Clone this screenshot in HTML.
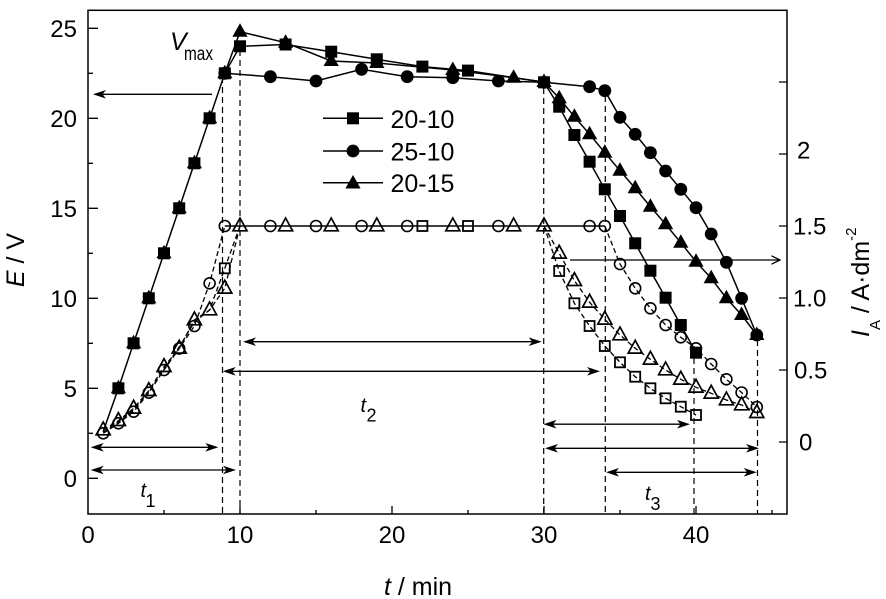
<!DOCTYPE html>
<html><head><meta charset="utf-8"><style>
html,body{margin:0;padding:0;background:#fff;}
svg{display:block;}
</style></head><body>
<svg width="886" height="599" xmlns="http://www.w3.org/2000/svg" xmlns:xlink="http://www.w3.org/1999/xlink" font-family="'Liberation Sans', Arial, sans-serif">
<defs>
<rect id="fs" x="-6" y="-6" width="12" height="12" fill="#000"/>
<circle id="fc" r="6.4" fill="#000"/>
<polygon id="ft" points="0,-8.5 7.6,5 -7.6,5" fill="#000"/>
<rect id="os" x="-5" y="-5" width="10" height="10" fill="none" stroke="#000" stroke-width="1.8"/>
<circle id="oc" r="5.5" fill="none" stroke="#000" stroke-width="1.6"/>
<polygon id="ot" points="0,-8 7,4.8 -7,4.8" fill="none" stroke="#000" stroke-width="1.7" stroke-linejoin="miter"/>
</defs>

<!-- frame -->
<rect x="88" y="10.3" width="699" height="503.7" fill="none" stroke="#000" stroke-width="1.5"/>

<!-- ticks -->
<g stroke="#000" stroke-width="1.3">
<path d="M88 478.3H98M88 388.3H98M88 298.3H98M88 208.3H98M88 118.3H98M88 28.3H98"/>
<path d="M88 433.3H93M88 343.3H93M88 253.3H93M88 163.3H93M88 73.3H93"/>
<path d="M240 514V506M392 514V506M544 514V506M696 514V506"/>
<path d="M164 514V510M316 514V510M468 514V510M620 514V510M772 514V510"/>
<path d="M787 442H779M787 370H779M787 298H779M787 226H779M787 154H779M787 82H779"/>
</g>

<!-- tick labels -->
<g font-size="24" fill="#000">
<text x="77" y="36.8" text-anchor="end">25</text>
<text x="77" y="126.8" text-anchor="end">20</text>
<text x="77" y="216.8" text-anchor="end">15</text>
<text x="77" y="306.8" text-anchor="end">10</text>
<text x="77" y="396.8" text-anchor="end">5</text>
<text x="77" y="486.8" text-anchor="end">0</text>
<text x="88" y="543" text-anchor="middle">0</text>
<text x="240" y="543" text-anchor="middle">10</text>
<text x="392" y="543" text-anchor="middle">20</text>
<text x="544" y="543" text-anchor="middle">30</text>
<text x="696" y="543" text-anchor="middle">40</text>
<text x="797" y="158.5">2</text>
<text x="793" y="234.3">1.5</text>
<text x="793" y="306.3">1.0</text>
<text x="794" y="378.3">0.5</text>
<text x="799" y="450.3">0</text>
</g>

<!-- axis labels -->
<text transform="translate(24,260) rotate(-90)" text-anchor="middle" font-size="25"><tspan font-style="italic">E</tspan> / V</text>
<text x="418" y="595" text-anchor="middle" font-size="25"><tspan font-style="italic">t</tspan> / min</text>
<text transform="translate(869,337) rotate(-90)" font-size="25"><tspan font-style="italic">I</tspan><tspan font-size="15" dy="11">A</tspan><tspan dy="-11"> / A·dm</tspan><tspan font-size="15" dy="-13">-2</tspan></text>

<!-- dashed verticals -->
<g stroke="#000" stroke-width="1.2" stroke-dasharray="6,4" fill="none">
<path d="M222.5 77V514"/>
<path d="M240 50V514"/>
<path d="M543.7 88V514"/>
<path d="M605.3 96V514"/>
<path d="M694 358V514"/>
<path d="M757.5 340V514"/>
</g>

<!-- arrows -->
<g stroke="#000" stroke-width="1.3" fill="none">
<path d="M212 94.3H95"/>
<path d="M245 341.7H539"/>
<path d="M225 371.3H597"/>
<path d="M546 424.2H687"/>
<path d="M547 448.3H756"/>
<path d="M608 472.3H754"/>
<path d="M93 447.3H216"/>
<path d="M93 470H233"/>
<path d="M570 260H780"/>
<path d="M771.5 255.8L780 260L771.5 264.2"/>
</g>
<g fill="#000" stroke="none">
<path d="M93 94.3l13 -4.3l-3.5 4.3l3.5 4.3z"/>
<path d="M243 341.7l13 -4.3l-3.5 4.3l3.5 4.3z"/>
<path d="M541.7 341.7l-13 -4.3l3.5 4.3l-3.5 4.3z"/>
<path d="M222.7 371.3l13 -4.3l-3.5 4.3l3.5 4.3z"/>
<path d="M600 371.3l-13 -4.3l3.5 4.3l-3.5 4.3z"/>
<path d="M543.5 424.2l13 -4.3l-3.5 4.3l3.5 4.3z"/>
<path d="M690 424.2l-13 -4.3l3.5 4.3l-3.5 4.3z"/>
<path d="M545 448.3l13 -4.3l-3.5 4.3l3.5 4.3z"/>
<path d="M759 448.3l-13 -4.3l3.5 4.3l-3.5 4.3z"/>
<path d="M606 472.3l13 -4.3l-3.5 4.3l3.5 4.3z"/>
<path d="M756.7 472.3l-13 -4.3l3.5 4.3l-3.5 4.3z"/>
<path d="M90.7 447.3l13 -4.3l-3.5 4.3l3.5 4.3z"/>
<path d="M218.3 447.3l-13 -4.3l3.5 4.3l-3.5 4.3z"/>
<path d="M90.7 470l13 -4.3l-3.5 4.3l3.5 4.3z"/>
<path d="M236 470l-13 -4.3l3.5 4.3l-3.5 4.3z"/>
</g>

<!-- annotation texts -->
<text x="170" y="50" font-size="25" font-style="italic">V</text>
<text x="184" y="60" font-size="19" textLength="29" lengthAdjust="spacingAndGlyphs">max</text>
<text x="140.5" y="497" font-size="20" font-style="italic">t</text>
<text x="145.5" y="507" font-size="18">1</text>
<text x="360.5" y="412" font-size="20" font-style="italic">t</text>
<text x="366.5" y="421.7" font-size="18">2</text>
<text x="645" y="500" font-size="20" font-style="italic">t</text>
<text x="650.5" y="510" font-size="18">3</text>

<!-- open series lines -->
<g fill="none" stroke="#000" stroke-width="1.3" stroke-dasharray="5,3">
<polyline points="103.2,433.3 118.4,423.3 133.6,411.7 148.8,392.7 164,370 179.2,348.5 194.4,326 209.6,283.3 224.8,226"/>
<polyline points="604.8,226 620,264 635.2,288.3 650.4,308.3 665.6,325 680.8,337.3 696,348.3 711.2,364 726.4,379.3 741.6,392.5 756.8,407"/>
<polyline points="103.2,432 118.4,422 133.6,410 148.8,392 164,369 179.2,347 194.4,322 209.6,310 224.8,268.3 240,226"/>
<polyline points="544,226 559.2,271 574.4,303.3 589.6,326 604.8,346 620,362.3 635.2,376.7 650.4,388.3 665.6,398.3 680.8,406.7 696,415"/>
<polyline points="103.2,430 118.4,420.7 133.6,408.3 148.8,390.7 164,366.7 179.2,348.3 194.4,320 209.6,310 224.8,288.3 240,226"/>
<polyline points="544,226 559.2,253.3 574.4,280.7 589.6,302.3 604.8,319.3 620,335 635.2,348.3 650.4,359.3 665.6,370 680.8,379.3 696,387.3 711.2,393.3 726.4,400 741.6,405 756.8,412.7"/>
</g>
<path d="M224.8 226H604.8" stroke="#000" stroke-width="1.5"/>

<!-- open markers -->
<g>
<use xlink:href="#oc" x="103.2" y="433.3"/><use xlink:href="#oc" x="118.4" y="423.3"/><use xlink:href="#oc" x="133.6" y="411.7"/><use xlink:href="#oc" x="148.8" y="392.7"/><use xlink:href="#oc" x="164" y="370"/><use xlink:href="#oc" x="179.2" y="348.5"/><use xlink:href="#oc" x="194.4" y="326"/><use xlink:href="#oc" x="209.6" y="283.3"/><use xlink:href="#oc" x="224.8" y="226"/>
<use xlink:href="#oc" x="270.4" y="226"/><use xlink:href="#oc" x="316" y="226"/><use xlink:href="#oc" x="361.6" y="226"/><use xlink:href="#oc" x="407.2" y="226"/><use xlink:href="#oc" x="498.4" y="226"/><use xlink:href="#oc" x="589.6" y="226"/><use xlink:href="#oc" x="604.8" y="226"/>
<use xlink:href="#oc" x="620" y="264"/><use xlink:href="#oc" x="635.2" y="288.3"/><use xlink:href="#oc" x="650.4" y="308.3"/><use xlink:href="#oc" x="665.6" y="325"/><use xlink:href="#oc" x="680.8" y="337.3"/><use xlink:href="#oc" x="696" y="348.3"/><use xlink:href="#oc" x="711.2" y="364"/><use xlink:href="#oc" x="726.4" y="379.3"/><use xlink:href="#oc" x="741.6" y="392.5"/><use xlink:href="#oc" x="756.8" y="407"/>

<use xlink:href="#os" x="224.8" y="268.3"/><use xlink:href="#os" x="422.4" y="226"/><use xlink:href="#os" x="468" y="226"/>
<use xlink:href="#os" x="559.2" y="271"/><use xlink:href="#os" x="574.4" y="303.3"/><use xlink:href="#os" x="589.6" y="326"/><use xlink:href="#os" x="604.8" y="346"/><use xlink:href="#os" x="620" y="362.3"/><use xlink:href="#os" x="635.2" y="376.7"/><use xlink:href="#os" x="650.4" y="388.3"/><use xlink:href="#os" x="665.6" y="398.3"/><use xlink:href="#os" x="680.8" y="406.7"/><use xlink:href="#os" x="696" y="415"/>

<use xlink:href="#ot" x="103.2" y="430"/><use xlink:href="#ot" x="118.4" y="420.7"/><use xlink:href="#ot" x="133.6" y="408.3"/><use xlink:href="#ot" x="148.8" y="390.7"/><use xlink:href="#ot" x="164" y="366.7"/><use xlink:href="#ot" x="179.2" y="348.3"/><use xlink:href="#ot" x="194.4" y="320"/><use xlink:href="#ot" x="209.6" y="310"/><use xlink:href="#ot" x="224.8" y="288.3"/><use xlink:href="#ot" x="240" y="226"/>
<use xlink:href="#ot" x="285.6" y="226"/><use xlink:href="#ot" x="331.2" y="226"/><use xlink:href="#ot" x="376.8" y="226"/><use xlink:href="#ot" x="452.8" y="226"/><use xlink:href="#ot" x="513.6" y="226"/><use xlink:href="#ot" x="544" y="226"/>
<use xlink:href="#ot" x="559.2" y="253.3"/><use xlink:href="#ot" x="574.4" y="280.7"/><use xlink:href="#ot" x="589.6" y="302.3"/><use xlink:href="#ot" x="604.8" y="319.3"/><use xlink:href="#ot" x="620" y="335"/><use xlink:href="#ot" x="635.2" y="348.3"/><use xlink:href="#ot" x="650.4" y="359.3"/><use xlink:href="#ot" x="665.6" y="370"/><use xlink:href="#ot" x="680.8" y="379.3"/><use xlink:href="#ot" x="696" y="387.3"/><use xlink:href="#ot" x="711.2" y="393.3"/><use xlink:href="#ot" x="726.4" y="400"/><use xlink:href="#ot" x="741.6" y="405"/><use xlink:href="#ot" x="756.8" y="412.7"/>
</g>

<!-- filled series lines -->
<g fill="none" stroke="#000" stroke-width="1.5">
<polyline points="103.2,431.5 118.4,388.3 133.6,343.3 148.8,298.3 164,253.3 179.2,208.3 194.4,163.3 209.6,118.3 224.8,73.3 240,46.3 285.6,44.5 331.2,51.7 376.8,59.3 422.4,66.6 468,70.6 544,82.3 559.2,106.7 574.4,135 589.6,161.7 604.8,189.3 620,216 635.2,243.3 650.4,270.7 665.6,297.7 680.8,325 696,352.7"/>
<polyline points="224.8,73.3 270.4,76.7 316,81 361.6,69.3 407.2,76.7 452.8,77.7 498.4,81 544,82.3 589.6,86.7 604.8,90.7 620,117.3 635.2,134.3 650.4,152.7 665.6,171 680.8,189.3 696,207.7 711.2,234 726.4,262.3 741.6,298.3 756.8,335"/>
<polyline points="224.8,73.3 240,31.7 285.6,42.7 331.2,61 376.8,63 452.8,70 513.6,77.7 544,82 559.2,98.3 574.4,116.7 589.6,134.3 604.8,152.7 620,170.7 635.2,188.3 650.4,206.7 665.6,224.3 680.8,242.7 696,261.7 711.2,278.3 726.4,298.3 741.6,315 756.8,335"/>
</g>

<!-- filled markers -->
<g>
<use xlink:href="#fs" x="118.4" y="388.3"/><use xlink:href="#fs" x="133.6" y="343.3"/><use xlink:href="#fs" x="148.8" y="298.3"/><use xlink:href="#fs" x="164" y="253.3"/><use xlink:href="#fs" x="179.2" y="208.3"/><use xlink:href="#fs" x="194.4" y="163.3"/><use xlink:href="#fs" x="209.6" y="118.3"/><use xlink:href="#fs" x="224.8" y="73.3"/>
<use xlink:href="#fs" x="240" y="46.3"/><use xlink:href="#fs" x="285.6" y="44.5"/><use xlink:href="#fs" x="331.2" y="51.7"/><use xlink:href="#fs" x="376.8" y="59.3"/><use xlink:href="#fs" x="422.4" y="66.6"/><use xlink:href="#fs" x="468" y="70.6"/><use xlink:href="#fs" x="544" y="82.3"/>
<use xlink:href="#fs" x="559.2" y="106.7"/><use xlink:href="#fs" x="574.4" y="135"/><use xlink:href="#fs" x="589.6" y="161.7"/><use xlink:href="#fs" x="604.8" y="189.3"/><use xlink:href="#fs" x="620" y="216"/><use xlink:href="#fs" x="635.2" y="243.3"/><use xlink:href="#fs" x="650.4" y="270.7"/><use xlink:href="#fs" x="665.6" y="297.7"/><use xlink:href="#fs" x="680.8" y="325"/><use xlink:href="#fs" x="696" y="352.7"/>

<use xlink:href="#fc" x="224.8" y="73.3"/><use xlink:href="#fc" x="270.4" y="76.7"/><use xlink:href="#fc" x="316" y="81"/><use xlink:href="#fc" x="361.6" y="69.3"/><use xlink:href="#fc" x="407.2" y="76.7"/><use xlink:href="#fc" x="452.8" y="77.7"/><use xlink:href="#fc" x="498.4" y="81"/><use xlink:href="#fc" x="544" y="82.3"/><use xlink:href="#fc" x="589.6" y="86.7"/><use xlink:href="#fc" x="604.8" y="90.7"/>
<use xlink:href="#fc" x="620" y="117.3"/><use xlink:href="#fc" x="635.2" y="134.3"/><use xlink:href="#fc" x="650.4" y="152.7"/><use xlink:href="#fc" x="665.6" y="171"/><use xlink:href="#fc" x="680.8" y="189.3"/><use xlink:href="#fc" x="696" y="207.7"/><use xlink:href="#fc" x="711.2" y="234"/><use xlink:href="#fc" x="726.4" y="262.3"/><use xlink:href="#fc" x="741.6" y="298.3"/><use xlink:href="#fc" x="756.8" y="335"/>

<use xlink:href="#ft" x="118.4" y="388.3"/><use xlink:href="#ft" x="133.6" y="343.3"/><use xlink:href="#ft" x="148.8" y="298.3"/><use xlink:href="#ft" x="164" y="253.3"/><use xlink:href="#ft" x="179.2" y="208.3"/><use xlink:href="#ft" x="194.4" y="163.3"/><use xlink:href="#ft" x="209.6" y="118.3"/><use xlink:href="#ft" x="224.8" y="73.3"/>
<use xlink:href="#ft" x="240" y="31.7"/><use xlink:href="#ft" x="285.6" y="42.7"/><use xlink:href="#ft" x="331.2" y="61"/><use xlink:href="#ft" x="376.8" y="63"/><use xlink:href="#ft" x="452.8" y="70"/><use xlink:href="#ft" x="513.6" y="77.7"/><use xlink:href="#ft" x="544" y="82"/>
<use xlink:href="#ft" x="559.2" y="98.3"/><use xlink:href="#ft" x="574.4" y="116.7"/><use xlink:href="#ft" x="589.6" y="134.3"/><use xlink:href="#ft" x="604.8" y="152.7"/><use xlink:href="#ft" x="620" y="170.7"/><use xlink:href="#ft" x="635.2" y="188.3"/><use xlink:href="#ft" x="650.4" y="206.7"/><use xlink:href="#ft" x="665.6" y="224.3"/><use xlink:href="#ft" x="680.8" y="242.7"/><use xlink:href="#ft" x="696" y="261.7"/><use xlink:href="#ft" x="711.2" y="278.3"/><use xlink:href="#ft" x="726.4" y="298.3"/><use xlink:href="#ft" x="741.6" y="315"/><use xlink:href="#ft" x="756.8" y="335"/>
</g>

<!-- legend -->
<g stroke="#000" stroke-width="1.5">
<path d="M323 118.3H383M323 151H383M323 182.7H383"/>
</g>
<use xlink:href="#fs" x="353" y="118.3"/>
<use xlink:href="#fc" x="353" y="151"/>
<use xlink:href="#ft" x="353" y="183.5"/>
<g font-size="25">
<text x="390.5" y="128">20-10</text>
<text x="390.5" y="160.3">25-10</text>
<text x="390.5" y="192">20-15</text>
</g>
</svg>
</body></html>
